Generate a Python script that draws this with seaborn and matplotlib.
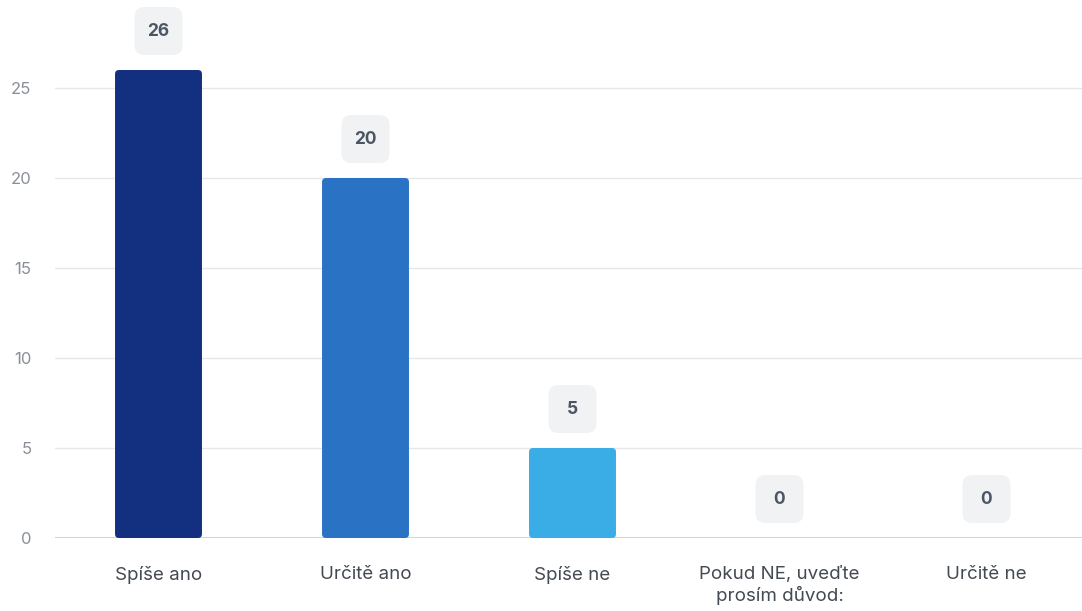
import matplotlib
matplotlib.use("Agg")
import matplotlib.pyplot as plt
import seaborn as sns
import pandas as pd
from matplotlib.patches import FancyBboxPatch

categories = ["Spíše ano", "Určitě ano", "Spíše ne", "Pokud NE, uveďte\nprosím důvod:", "Určitě ne"]
values = [26, 20, 5, 0, 0]
colors = ["#12307f", "#2a72c4", "#3aace6", "#3aace6", "#3aace6"]
yticks = [0, 5, 10, 15, 20, 25]

sns.set_theme(style="white")
plt.rcParams["font.family"] = ["Inter", "DejaVu Sans"]

W, H, DPI = 1082, 611, 100
fig = plt.figure(figsize=(W / DPI, H / DPI), dpi=DPI)
left, right, bottom, top = 55 / W, 1090 / W, 1 - 538 / H, 1.0
ax = fig.add_axes([left, bottom, right - left, top - bottom])

df = pd.DataFrame({"cat": categories, "val": values})
sns.barplot(data=df, x="cat", y="val", hue="cat", palette=colors, legend=False,
            width=0.42, ax=ax, saturation=1)

ax.set_xlim(-0.5, len(categories) - 0.5)
ymax = 538 / 18.0
ax.set_ylim(0, ymax)

# pixel -> data scale
ax_w_px = (right - left) * W
ax_h_px = (top - bottom) * H
xu = (len(categories)) / ax_w_px  # data per px in x
yu = ymax / ax_h_px               # data per px in y
aspect = yu / xu

# round bar corners
for p in list(ax.patches):
    x0, y0 = p.get_x(), p.get_y()
    w, h = p.get_width(), p.get_height()
    fc = p.get_facecolor()
    p.remove()
    if h <= 0:
        continue
    r = 4 * xu
    fb = FancyBboxPatch((x0, y0), w, h,
                        boxstyle=f"round,pad=0,rounding_size={r}",
                        mutation_aspect=aspect, fc=fc, ec="none", zorder=3)
    ax.add_patch(fb)

# value label boxes
bw, bh = 48 * xu, 48 * yu
for i, v in enumerate(values):
    cy = v + 39 * yu
    box = FancyBboxPatch((i - bw / 2, cy - bh / 2), bw, bh,
                         boxstyle=f"round,pad=0,rounding_size={10 * xu}",
                         mutation_aspect=aspect, fc="#f0f2f3", ec="none",
                         zorder=4, clip_on=False)
    ax.add_patch(box)
    ax.text(i, cy, str(v), ha="center", va="center", fontsize=12.5,
            fontweight="bold", color="#4b5563", zorder=5)

ax.set_yticks(yticks)
ax.yaxis.grid(True, color="#e5e7eb", linewidth=1)
ax.set_axisbelow(True)
ax.axhline(0, color="#c9d4ee", linewidth=1.5, zorder=2)
for s in ax.spines.values():
    s.set_visible(False)
ax.tick_params(axis="y", length=0, pad=17, labelsize=12, labelcolor="#8a8f98")
ax.tick_params(axis="x", length=0, pad=20, labelsize=13.5, labelcolor="#444a52")
ax.set_xlabel("")
ax.set_ylabel("")

fig.savefig("out.png", dpi=DPI)
